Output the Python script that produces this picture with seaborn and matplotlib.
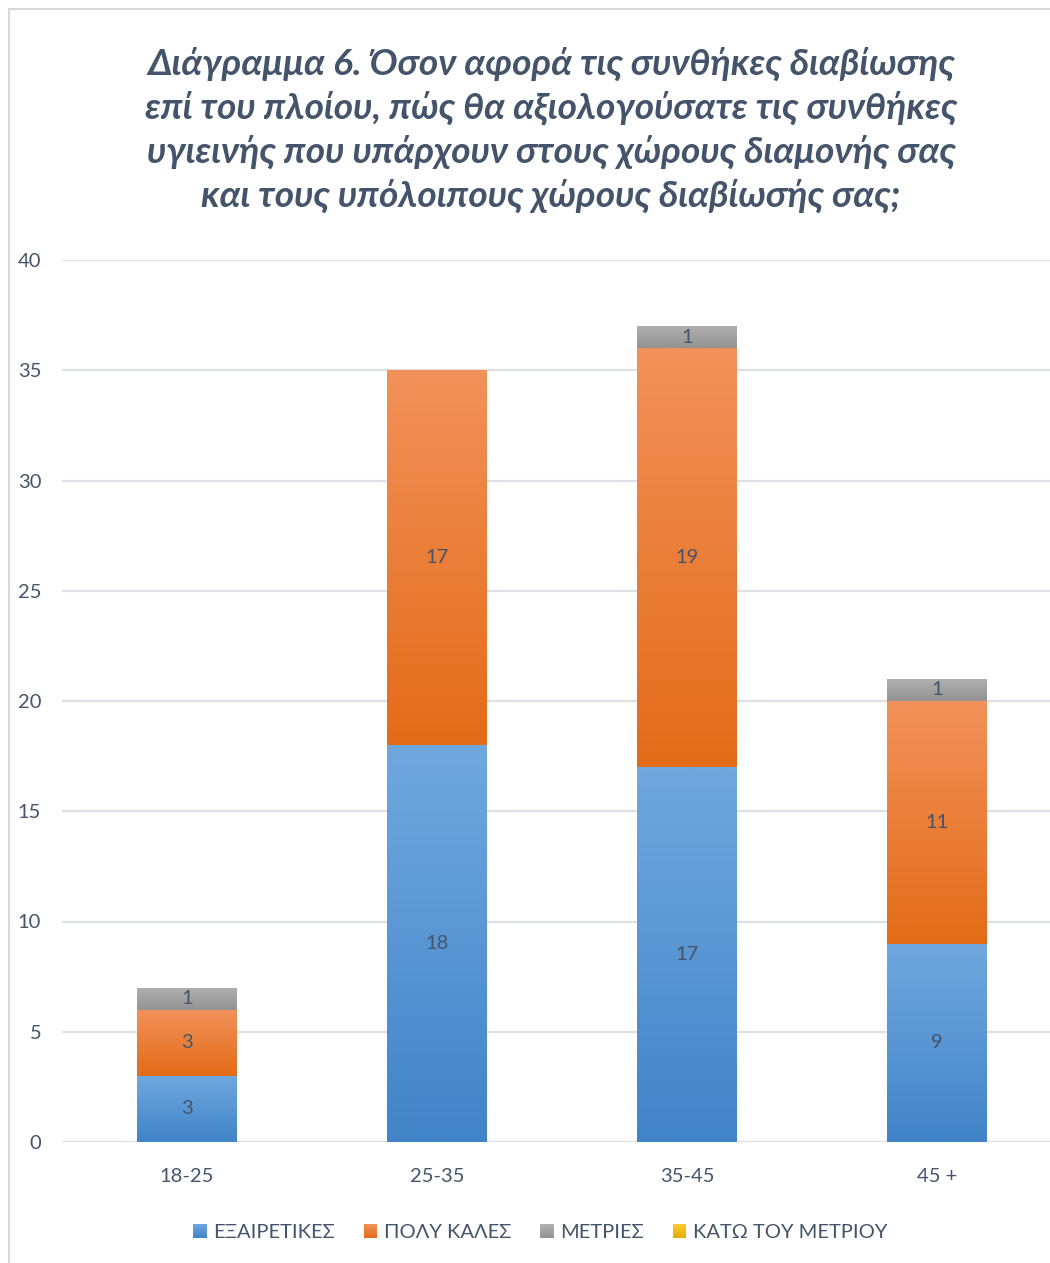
import numpy as np
import pandas as pd
import matplotlib
matplotlib.use("Agg")
import matplotlib.pyplot as plt
import matplotlib.colors as mcolors
from matplotlib.patches import Rectangle
from matplotlib.legend_handler import HandlerBase
import seaborn as sns

# ---- data -------------------------------------------------------------
categories = ["18-25", "25-35", "35-45", "45 +"]
excellent = [3, 18, 17, 9]
very_good = [3, 17, 19, 11]
moderate = [1, 0, 1, 1]
below_moderate = [0, 0, 0, 0]
series_names = ["ΕΞΑΙΡΕΤΙΚΕΣ", "ΠΟΛΥ ΚΑΛΕΣ", "ΜΕΤΡΙΕΣ", "ΚΑΤΩ ΤΟΥ ΜΕΤΡΙΟΥ"]
y_ticks = [0, 5, 10, 15, 20, 25, 30, 35, 40]
title_text = ("Διάγραμμα 6. Όσον αφορά τις συνθήκες διαβίωσης\n"
              "επί του πλοίου, πώς θα αξιολογούσατε τις συνθήκες\n"
              "υγιεινής που υπάρχουν στους χώρους διαμονής σας\n"
              "και τους υπόλοιπους χώρους διαβίωσής σας;")

# (top colour, bottom colour) of each series' vertical gradient
gradients = [("#70A8DE", "#4184C8"),
             ("#F2915A", "#E36C18"),
             ("#B0B0B0", "#939393"),
             ("#FFC933", "#E5AE00")]

TEXT = "#44546A"
GRID = "#DDE1E6"
FS = 14.5

sns.set_theme(style="white")
plt.rcParams["font.family"] = ["Lato", "Open Sans", "DejaVu Sans"]

W, H = 1050, 1263
fig = plt.figure(figsize=(W / 100, H / 100), dpi=100)
ax = fig.add_axes([62 / W, (H - 1142) / H, 1000 / W, 882 / H])

df = pd.DataFrame({"category": categories})
values = [excellent, very_good, moderate, below_moderate]
for name, vals in zip(series_names, values):
    df[name] = vals

cum = np.zeros(len(categories))
segments = []  # (patch, bottom, top, series index, value)
for i, name in enumerate(series_names):
    bottoms = cum.copy()
    cum = cum + df[name].to_numpy()
    n_before = len(ax.patches)
    sns.barplot(x=df["category"], y=cum, order=categories, width=0.4,
                color=gradients[i][1], saturation=1, ax=ax, errorbar=None)
    new_patches = ax.patches[n_before:]
    for j, p in enumerate(new_patches):
        segments.append((p, bottoms[j], cum[j], i, df[name].iloc[j]))


def gradient_image(top, bottom, n=64):
    c_top = np.array(mcolors.to_rgb(top))
    c_bot = np.array(mcolors.to_rgb(bottom))
    t = np.linspace(0, 1, n)[:, None]
    return (c_top * (1 - t) + c_bot * t)[:, None, :]


for p, b, t, i, v in segments:
    p.set_y(b)
    p.set_height(t - b)
    p.set_facecolor("none")
    p.set_edgecolor("none")
    if t - b <= 0:
        continue
    x0 = p.get_x()
    w = p.get_width()
    img = ax.imshow(gradient_image(*gradients[i]), aspect="auto",
                    extent=[x0, x0 + w, b, t], origin="upper",
                    interpolation="bilinear", zorder=2)
    img.set_clip_path(p)
    ax.text(x0 + w / 2, (b + t) / 2, f"{int(v)}", ha="center", va="center",
            fontsize=FS, color=TEXT, zorder=3)

ax.set_xlim(-0.5, len(categories) - 0.5)
ax.set_ylim(0, 40)
ax.set_yticks(y_ticks)
ax.set_yticklabels([str(v) for v in y_ticks])
ax.set_xlabel("")
ax.set_ylabel("")
ax.yaxis.grid(True, color=GRID, linewidth=1.6)
ax.set_axisbelow(True)
for s in ax.spines.values():
    s.set_visible(False)
ax.tick_params(axis="both", length=0, labelsize=FS, labelcolor=TEXT)
ax.tick_params(axis="y", pad=15)
ax.tick_params(axis="x", pad=19)
ax.set_facecolor("white")

# title
fig.text(551 / W, 1 - 130 / H, title_text, ha="center", va="center",
         fontsize=26.7, fontweight="bold", fontstyle="italic", color=TEXT,
         linespacing=1.34)


class GradientHandler(HandlerBase):
    def __init__(self, top, bottom, n=14):
        super().__init__()
        self.top, self.bottom, self.n = top, bottom, n

    def create_artists(self, legend, orig_handle, xdescent, ydescent,
                       width, height, fontsize, trans):
        cols = gradient_image(self.top, self.bottom, self.n)[:, 0, :]
        x0, y0 = -xdescent, -ydescent
        dh = height / self.n
        artists = []
        for k, c in enumerate(cols):
            r = Rectangle((x0, y0 + height - (k + 1) * dh), width, dh * 1.05,
                          facecolor=c, edgecolor="none", transform=trans)
            artists.append(r)
        return artists


handles = [Rectangle((0, 0), 1, 1) for _ in series_names]
handler_map = {h: GradientHandler(*g) for h, g in zip(handles, gradients)}
fig.legend(handles, series_names, handler_map=handler_map, loc="center",
           bbox_to_anchor=(540 / W, 1 - 1233 / H), ncol=4, frameon=False,
           fontsize=FS, labelcolor=TEXT, handlelength=0.68, handleheight=0.68,
           handletextpad=0.3, columnspacing=1.45)

# chart-area frame
fig.add_artist(Rectangle((8.5 / W, -0.05), 1.2, 1 - 8.5 / H + 0.05,
                         transform=fig.transFigure, facecolor="none",
                         edgecolor="#D9D9D9", linewidth=1.5))

fig.savefig("out.png", dpi=100, facecolor="white")
